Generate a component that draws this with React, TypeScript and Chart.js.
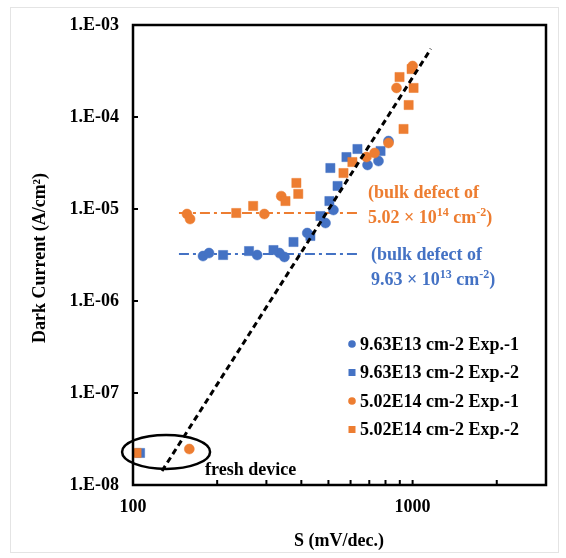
import { useEffect, useRef } from 'react';
import { Chart, registerables } from 'chart.js';

Chart.register(...registerables);

const BLUE = '#4472C4';
const ORANGE = '#ED7D31';
const FONT = "'Liberation Serif', 'Times New Roman', serif";

const seriesLabels = [
  '9.63E13 cm-2 Exp.-1',
  '9.63E13 cm-2 Exp.-2',
  '5.02E14 cm-2 Exp.-1',
  '5.02E14 cm-2 Exp.-2',
];

// 9.63E13 cm-2, Exp.-1 (circles)
const blueExp1S = [178, 187, 278, 334, 348, 420, 488, 521, 690, 755, 820];
const blueExp1I = [3.08e-6, 3.32e-6, 3.16e-6, 3.32e-6, 3.01e-6, 5.48e-6, 7.04e-6, 9.75e-6, 3.01e-5, 3.32e-5, 5.48e-5];

// 9.63E13 cm-2, Exp.-2 (squares)
const blueExp2S = [106, 210, 260, 318, 375, 431, 468, 504, 539, 508, 580, 635, 768];
const blueExp2I = [2.23e-8, 3.16e-6, 3.49e-6, 3.58e-6, 4.38e-6, 5.09e-6, 8.39e-6, 1.22e-5, 1.78e-5, 2.79e-5, 3.67e-5, 4.49e-5, 4.27e-5];

// 5.02E14 cm-2, Exp.-1 (circles)
const orangeExp1S = [159, 156, 160, 295, 339, 684, 731, 820, 876, 1000];
const orangeExp1I = [2.46e-8, 8.82e-6, 7.78e-6, 8.82e-6, 1.38e-5, 3.67e-5, 4.06e-5, 5.22e-5, 2.07e-4, 3.58e-4];

// 5.02E14 cm-2, Exp.-2 (squares)
const orangeExp2S = [103, 234, 269, 351, 384, 390, 566, 609, 898, 1008, 968, 928, 992];
const orangeExp2I = [2.23e-8, 9.05e-6, 1.08e-5, 1.22e-5, 1.92e-5, 1.46e-5, 2.46e-5, 3.24e-5, 2.72e-4, 2.07e-4, 1.35e-4, 7.41e-5, 3.32e-4];

// dashed trend line end points
const fitS = [127, 1162];
const fitI = [1.42e-8, 5.5e-4];

// bulk-defect reference levels
const bulkS = [146, 645];
const bulkOrangeI = [9.05e-6, 9.05e-6];
const bulkBlueI = [3.24e-6, 3.24e-6];

// fresh device marker
const freshCenter = { s: 131.3, i: 2.29e-8 };

const xTickLabels = [100, 1000];
const xMinorTicks = [200, 300, 400, 500, 600, 700, 800, 900, 1000, 2000];
const yTickValues = [1e-8, 1e-7, 1e-6, 1e-5, 1e-4, 1e-3];

const xTitle = 'S (mV/dec.)';
const yTitle = 'Dark Current (A/cm²)';
const freshText = 'fresh device';
const orangeNote: [string, boolean][][] = [
  [['(bulk defect of', false]],
  [['5.02 × 10', false], ['14', true], [' cm', false], ['-2', true], [')', false]],
];
const blueNote: [string, boolean][][] = [
  [['(bulk defect of', false]],
  [['9.63 × 10', false], ['13', true], [' cm', false], ['-2', true], [')', false]],
];

const zip = (xs: number[], ys: number[]) => xs.map((x, i) => ({ x, y: ys[i] }));

function drawRich(ctx: CanvasRenderingContext2D, parts: [string, boolean][], x: number, y: number) {
  let cx = x;
  for (const [t, sup] of parts) {
    ctx.font = `bold ${sup ? 12 : 18}px ${FONT}`;
    ctx.fillText(t, cx, sup ? y - 7 : y);
    cx += ctx.measureText(t).width;
  }
}

const overlay = {
  id: 'overlay',
  afterDatasetsDraw(chart: any) {
    const ctx = chart.ctx as CanvasRenderingContext2D;
    const xs = chart.scales.x;
    const ys = chart.scales.y;
    ctx.save();
    ctx.strokeStyle = '#000';
    ctx.lineWidth = 2.5;
    ctx.beginPath();
    ctx.ellipse(xs.getPixelForValue(freshCenter.s), ys.getPixelForValue(freshCenter.i), 44, 17, 0, 0, Math.PI * 2);
    ctx.stroke();
    ctx.restore();
  },
  afterDraw(chart: any) {
    const ctx = chart.ctx as CanvasRenderingContext2D;
    const { left, right, top, bottom } = chart.chartArea;
    const xs = chart.scales.x;
    const ys = chart.scales.y;
    ctx.save();
    // frame
    ctx.strokeStyle = '#000';
    ctx.lineWidth = 2.5;
    ctx.strokeRect(left, top, right - left, bottom - top);
    // inside ticks
    ctx.lineWidth = 2;
    ctx.beginPath();
    for (const v of xMinorTicks) {
      const px = xs.getPixelForValue(v);
      ctx.moveTo(px, bottom);
      ctx.lineTo(px, bottom - 5);
    }
    for (const v of yTickValues) {
      const py = ys.getPixelForValue(v);
      ctx.moveTo(left, py);
      ctx.lineTo(left + 5, py);
    }
    ctx.stroke();

    ctx.fillStyle = '#000';
    ctx.textBaseline = 'alphabetic';
    ctx.textAlign = 'left';
    ctx.font = `bold 18px ${FONT}`;
    ctx.fillText(freshText, 205, 475);

    ctx.fillStyle = ORANGE;
    drawRich(ctx, orangeNote[0], 368, 198);
    drawRich(ctx, orangeNote[1], 368, 223);
    ctx.fillStyle = BLUE;
    drawRich(ctx, blueNote[0], 371, 260);
    drawRich(ctx, blueNote[1], 371, 285);

    // legend
    const rows = [344, 372.5, 401, 429.5];
    chart.data.datasets.slice(0, 4).forEach((ds: any, i: number) => {
      const y = rows[i];
      ctx.fillStyle = ds.backgroundColor;
      if (ds.pointStyle === 'rect') {
        ctx.fillRect(348.5, y - 3.5, 7, 7);
      } else {
        ctx.beginPath();
        ctx.arc(352, y, 3.8, 0, Math.PI * 2);
        ctx.fill();
      }
      ctx.fillStyle = '#000';
      ctx.font = `bold 18px ${FONT}`;
      ctx.textBaseline = 'middle';
      ctx.fillText(ds.label, 360, y + 1);
    });

    // axis titles
    ctx.textAlign = 'center';
    ctx.textBaseline = 'middle';
    ctx.font = `bold 18px ${FONT}`;
    ctx.fillText(xTitle, 339, 541);
    ctx.translate(40, 258);
    ctx.rotate(-Math.PI / 2);
    ctx.fillText(yTitle, 0, 0);
    ctx.restore();
  },
};

export default function App() {
  const ref = useRef<HTMLCanvasElement>(null);
  useEffect(() => {
    if (!ref.current) return;
    const pointDs = (label: string, color: string, style: string, data: any[], order: number) => ({
      label,
      data,
      backgroundColor: color,
      borderColor: color,
      pointStyle: style,
      pointRadius: style === 'rect' ? 6.5 : 5,
      pointBorderWidth: 0.5,
      showLine: false,
      order,
    });
    const chart = new Chart(ref.current, {
      type: 'scatter',
      data: {
        datasets: [
          pointDs(seriesLabels[0], BLUE, 'circle', zip(blueExp1S, blueExp1I), 4),
          pointDs(seriesLabels[1], BLUE, 'rect', zip(blueExp2S, blueExp2I), 3),
          pointDs(seriesLabels[2], ORANGE, 'circle', zip(orangeExp1S, orangeExp1I), 2),
          pointDs(seriesLabels[3], ORANGE, 'rect', zip(orangeExp2S, orangeExp2I), 1),
          {
            label: 'fit',
            data: zip(fitS, fitI),
            showLine: true,
            borderColor: '#000',
            borderWidth: 3,
            borderDash: [6, 4],
            pointRadius: 0,
            order: 0,
          },
          {
            label: 'bulk-orange',
            data: zip(bulkS, bulkOrangeI),
            showLine: true,
            borderColor: ORANGE,
            borderWidth: 2,
            borderDash: [10, 4, 3, 4],
            pointRadius: 0,
            order: 10,
          },
          {
            label: 'bulk-blue',
            data: zip(bulkS, bulkBlueI),
            showLine: true,
            borderColor: BLUE,
            borderWidth: 2,
            borderDash: [10, 4, 3, 4],
            pointRadius: 0,
            order: 10,
          },
        ],
      },
      options: {
        animation: false,
        responsive: false,
        layout: { padding: { left: 0, top: 25, right: 20, bottom: 0 } },
        plugins: { legend: { display: false }, tooltip: { enabled: false } },
        scales: {
          x: {
            type: 'logarithmic',
            min: 100,
            max: 3000,
            afterBuildTicks: (s: any) => {
              s.ticks = xTickLabels.map((v) => ({ value: v }));
            },
            afterFit: (s: any) => {
              s.height = 73;
            },
            ticks: {
              autoSkip: false,
              maxRotation: 0,
              padding: 12,
              color: '#000',
              font: { family: FONT, size: 18, weight: 'bold' },
              callback: (v: any) => String(v),
            },
            grid: { display: false, drawTicks: false },
            border: { display: false },
          },
          y: {
            type: 'logarithmic',
            min: 1e-8,
            max: 1e-3,
            afterBuildTicks: (s: any) => {
              s.ticks = yTickValues.map((v) => ({ value: v }));
            },
            afterFit: (s: any) => {
              s.width = 133;
            },
            ticks: {
              autoSkip: false,
              padding: 14,
              color: '#000',
              font: { family: FONT, size: 18, weight: 'bold' },
              callback: (v: any) => {
                const e = Math.round(Math.log10(v));
                const a = Math.abs(e);
                return `1.E${e < 0 ? '-' : '+'}${a < 10 ? '0' : ''}${a}`;
              },
            },
            grid: { display: false, drawTicks: false },
            border: { display: false },
          },
        },
      } as any,
      plugins: [overlay],
    });
    return () => chart.destroy();
  }, []);
  return (
    <div style={{ position: 'absolute', left: 0, top: 0, width: 566, height: 558, background: '#fff' }}>
      <div style={{ position: 'absolute', left: 10, top: 7, width: 547, height: 544, border: '1px solid #e4e4e4' }} />
      <canvas ref={ref} width={566} height={558} style={{ position: 'absolute', left: 0, top: 0, display: 'block' }} />
    </div>
  );
}
